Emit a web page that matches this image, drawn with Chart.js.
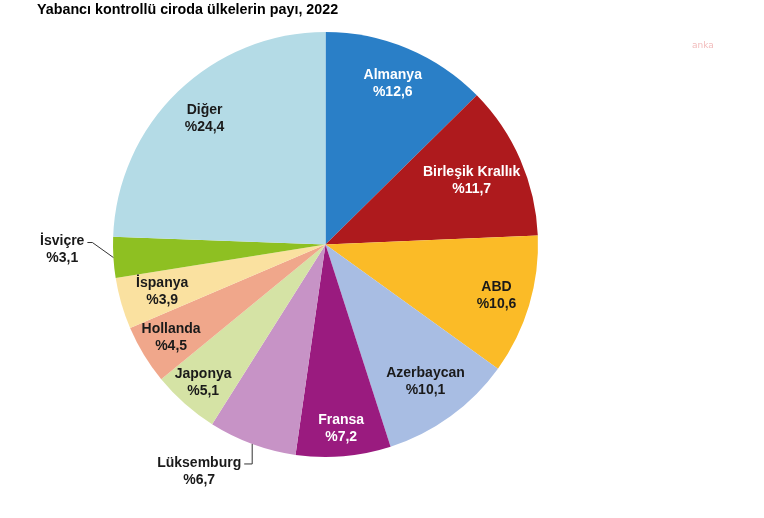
<!DOCTYPE html>
<html>
<head>
<meta charset="utf-8">
<script src="https://cdn.jsdelivr.net/npm/chart.js@4"></script>
<style>
  html, body { margin: 0; padding: 0; background: #fff; }
  #wrap { width: 764px; height: 518px; position: relative; }
</style>
</head>
<body>
<div id="wrap"><canvas id="myChart" width="764" height="518"></canvas></div>
<script>
// data
const countries = ['Almanya', 'Birleşik Krallık', 'ABD', 'Azerbaycan', 'Fransa', 'Lüksemburg', 'Japonya', 'Hollanda', 'İspanya', 'İsviçre', 'Diğer'];
const shares = [12.6, 11.7, 10.6, 10.1, 7.2, 6.7, 5.1, 4.5, 3.9, 3.1, 24.4];
const sliceColors = ['#2a7fc7', '#ae1a1d', '#fbbb27', '#a8bde3', '#9a1b7f', '#c793c6', '#d5e3a5', '#f0a78b', '#fae1a0', '#8ec022', '#b4dbe6'];
const labelColors = ['#fff', '#fff', '#1a1a1a', '#1a1a1a', '#fff', '#1a1a1a', '#1a1a1a', '#1a1a1a', '#1a1a1a', '#1a1a1a', '#1a1a1a'];
const title = 'Yabancı kontrollü ciroda ülkelerin payı, 2022';

// how far out (fraction of radius) each label sits; outside ones get a leader line
const labelRadius = [0.82, 0.75, 0.84, 0.8, 0.87, null, 0.87, 0.85, 0.8, null, 0.82];
const leaders = { 5: [[0, 20], [-8, 20]], 9: [[-21, -15], [-26, -15]] };

const fmt = v => '%' + v.toFixed(1).replace('.', ',');

const labelPlugin = {
    id: 'sliceLabels',
    afterDatasetsDraw(chart) {
        const ctx = chart.ctx;
        const meta = chart.getDatasetMeta(0);
        ctx.save();
        ctx.font = 'bold 14px "Liberation Sans", Arial, sans-serif';
        ctx.textBaseline = 'middle';
        meta.data.forEach((arc, i) => {
            const p = arc.getProps(['x', 'y', 'startAngle', 'endAngle', 'outerRadius']);
            const mid = (p.startAngle + p.endAngle) / 2;
            const l1 = countries[i], l2 = fmt(shares[i]);
            ctx.fillStyle = labelColors[i];
            if (labelRadius[i] != null) {
                const r = p.outerRadius * labelRadius[i];
                const cx = p.x + Math.cos(mid) * r;
                const cy = p.y + Math.sin(mid) * r;
                ctx.textAlign = 'center';
                ctx.fillText(l1, cx, cy - 9);
                ctx.fillText(l2, cx, cy + 8);
            } else {
                const ex = p.x + Math.cos(mid) * p.outerRadius;
                const ey = p.y + Math.sin(mid) * p.outerRadius;
                const seg = leaders[i];
                ctx.strokeStyle = '#333';
                ctx.lineWidth = 1;
                ctx.beginPath();
                ctx.moveTo(ex, ey);
                seg.forEach(s => ctx.lineTo(ex + s[0], ey + s[1]));
                ctx.stroke();
                const last = seg[seg.length - 1];
                const w = ctx.measureText(l1).width;
                const cx = ex + last[0] - 3 - w / 2;
                const ty = ey + last[1] - 1;
                ctx.textAlign = 'center';
                ctx.fillText(l1, cx, ty);
                ctx.fillText(l2, cx, ty + 17);
            }
        });
        // title and watermark
        ctx.textAlign = 'left';
        ctx.fillStyle = '#000';
        ctx.font = 'bold 14.3px "Liberation Sans", Arial, sans-serif';
        ctx.fillText(title, 37, 10);
        ctx.fillStyle = '#f2bcbc';
        ctx.font = '9px "DejaVu Sans", sans-serif';
        ctx.fillText('anka', 692, 46);
        ctx.restore();
    }
};

new Chart(document.getElementById('myChart'), {
    type: 'pie',
    data: {
        labels: countries,
        datasets: [{
            data: shares,
            backgroundColor: sliceColors,
            borderWidth: 0
        }]
    },
    options: {
        responsive: false,
        animation: false,
        layout: { padding: { top: 32, bottom: 61, left: 113, right: 226 } },
        plugins: {
            legend: { display: false },
            tooltip: { enabled: false }
        }
    },
    plugins: [labelPlugin]
});
</script>
</body>
</html>
